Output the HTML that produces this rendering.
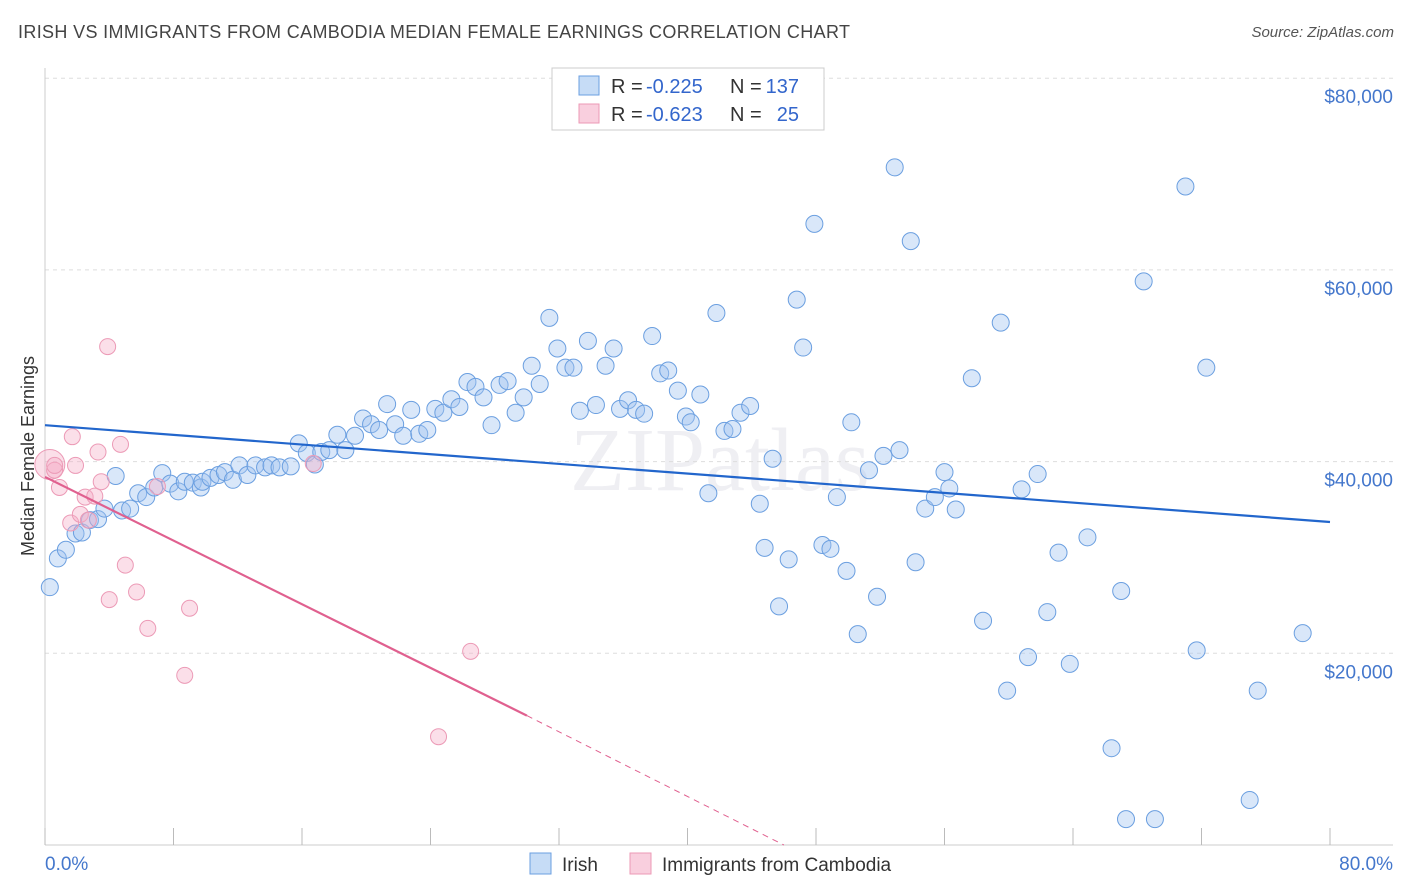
<!DOCTYPE html>
<html><head><meta charset="utf-8">
<style>
body{margin:0;background:#fff;font-family:"Liberation Sans",sans-serif;}
#wrap{position:relative;width:1406px;height:892px;overflow:hidden;}
.title{position:absolute;left:18px;top:22px;font-size:18px;color:#444;letter-spacing:0.35px;}
.source{position:absolute;right:12px;top:24px;font-size:15px;color:#555;font-style:italic;}
</style></head>
<body>
<div id="wrap">
<div class="title">IRISH VS IMMIGRANTS FROM CAMBODIA MEDIAN FEMALE EARNINGS CORRELATION CHART</div>
<div class="source">Source: ZipAtlas.com</div>
<svg id="svg" width="1406" height="892" style="position:absolute;left:0;top:0"></svg>
</div>
<script>
const irishX=[0.3,0.8,1.3,1.9,2.3,2.8,3.3,3.7,4.4,4.8,5.3,5.8,6.3,6.8,7.3,7.8,8.3,8.7,9.2,9.7,9.8,10.3,10.8,11.2,11.7,12.1,12.6,13.1,13.7,14.1,14.6,15.3,15.8,16.3,16.8,17.2,17.7,18.2,18.7,19.3,19.8,20.3,20.8,21.3,21.8,22.3,22.8,23.3,23.8,24.3,24.8,25.3,25.8,26.3,26.8,27.3,27.8,28.3,28.8,29.3,29.8,30.3,30.8,31.4,31.9,32.4,32.9,33.3,33.8,34.3,34.9,35.4,35.8,36.3,36.8,37.3,37.8,38.3,38.8,39.4,39.9,40.2,40.8,41.3,41.8,42.3,42.8,43.3,43.9,44.5,44.8,45.3,45.7,46.3,46.8,47.2,47.9,48.4,48.9,49.3,49.9,50.2,50.6,51.3,51.8,52.2,52.9,53.2,53.9,54.2,54.8,55.4,56.0,56.3,56.7,57.7,58.4,59.5,59.9,60.8,61.2,61.8,62.4,63.1,63.8,64.9,66.4,67.0,67.3,68.4,69.1,71.0,71.7,72.3,75.0,75.5,78.3];
const irishY=[26900,29900,30800,32500,32600,33900,34000,35100,38500,34900,35100,36700,36300,37300,38800,37700,36900,37900,37800,37300,37900,38300,38600,38900,38100,39600,38600,39600,39400,39600,39400,39500,41900,40900,39700,41000,41200,42800,41200,42700,44500,43900,43300,46000,43900,42700,45400,42900,43300,45500,45100,46500,45700,48300,47800,46700,43800,48000,48400,45100,46700,50000,48100,55000,51800,49800,49800,45300,52600,45900,50000,51800,45500,46400,45400,45000,53100,49200,49500,47400,44700,44100,47000,36700,55500,43200,43400,45100,45800,35600,31000,40300,24900,29800,56900,51900,64800,31300,30900,36300,28600,44100,22000,39100,25900,40600,70700,41200,63000,29500,35100,36300,38900,37200,35000,48700,23400,54500,16100,37100,19600,38700,24300,30500,18900,32100,10100,26500,2700,58800,2700,68700,20300,49800,4700,16100,22100];
const cambX=[0.3,0.6,0.9,1.6,1.7,1.9,2.2,2.5,3.1,3.3,3.5,3.9,4.0,4.7,5.0,5.7,6.4,7.0,8.7,9.0,16.7,24.5,26.5,2.7,0.6];
const cambY=[39700,39100,37300,33600,42600,39600,34500,36300,36400,41000,37900,52000,25600,41800,29200,26400,22600,37400,17700,24700,39800,11300,20200,33900,39600];
const irishLine=[43800,33700]; // y at x=0 and x=80
const cambLine=[38400,13500,30,46]; // y at 0, y at solid end, solid end x, zero-crossing x
const yTicks=[20000,40000,60000,80000];
const yTickLabels=["$20,000","$40,000","$60,000","$80,000"];
const xTicks=[0,8,16,24,32,40,48,56,64,72,80];

const NS="http://www.w3.org/2000/svg";
const svg=document.getElementById('svg');
const X=v=>45+v*1285/80;
const Y=v=>845-v*191.7/20000;
function el(t,a,p){const e=document.createElementNS(NS,t);for(const k in a)e.setAttribute(k,a[k]);(p||svg).appendChild(e);return e;}

const wm=el('text',{x:720,y:490,'text-anchor':'middle','font-size':90,fill:'#efeff3','font-family':'Liberation Serif, serif'});


wm.textContent='ZIPatlas';

yTicks.forEach((v,i)=>{
  const g=el('line',{x1:45,x2:1393,y1:Y(v),y2:Y(v),stroke:'#ddd','stroke-dasharray':'4,4'});
  
  
  const t=el('text',{x:1393,y:Y(v)+25,'text-anchor':'end','font-size':19,fill:'#4477cc'});
  
  
  t.textContent=yTickLabels[i];
});
const ax=el('line',{x1:45,x2:1393,y1:845,y2:845,stroke:'#ccc'});


const ay=el('line',{x1:45,x2:45,y1:68,y2:845,stroke:'#ccc'});


xTicks.forEach(v=>{
  const t=el('line',{x1:X(v),x2:X(v),y1:828,y2:845,stroke:'#bbb'});
  
  
});
const xl0=el('text',{x:45,y:870,'font-size':19,fill:'#4477cc'});


xl0.textContent='0.0%';
const xl1=el('text',{x:1393,y:870,'text-anchor':'end','font-size':19,fill:'#4477cc'});


xl1.textContent='80.0%';
const yt=el('text',{x:34,y:456,'text-anchor':'middle','font-size':18,fill:'#333',transform:'rotate(-90 34 456)'});


yt.textContent='Median Female Earnings';

irishX.forEach((x,i)=>{
  const c=el('circle',{cx:X(x),cy:Y(irishY[i]),r:8.5,fill:'rgba(160,196,240,0.4)',stroke:'#6b9fe0','stroke-width':1});
  
  
});
cambX.forEach((x,i)=>{
  const c=el('circle',{cx:X(x),cy:Y(cambY[i]),r:i===0?15:8,fill:'rgba(245,175,200,0.4)',stroke:'#ec9ab6','stroke-width':1});
  
  
});
const l1=el('line',{x1:X(0),y1:Y(irishLine[0]),x2:X(80),y2:Y(irishLine[1]),stroke:'#2266cc','stroke-width':2.2});


const l2=el('line',{x1:X(0),y1:Y(cambLine[0]),x2:X(cambLine[2]),y2:Y(cambLine[1]),stroke:'#e0608f','stroke-width':2.2});


const l3=el('line',{x1:X(cambLine[2]),y1:Y(cambLine[1]),x2:X(cambLine[3]),y2:Y(0),stroke:'#e0608f','stroke-width':1,'stroke-dasharray':'6,5'});



const lg=el('rect',{x:552,y:68,width:272,height:62,fill:'#fff',stroke:'#ccc'});


[[0,'rgba(160,196,240,0.6)','#6b9fe0','-0.225','137'],[1,'rgba(245,175,200,0.6)','#ec9ab6','-0.623','25']].forEach(r=>{
  const y=86+r[0]*28;
  const s=el('rect',{x:579,y:y-10,width:20,height:19,fill:r[1],stroke:r[2]});
  
  
  const a=el('text',{x:611,y:y+7,'font-size':20,fill:'#333'});
  
  
  a.textContent='R =';
  const b=el('text',{x:646,y:y+7,'font-size':20,fill:'#3366cc'});
  
  
  b.textContent=r[3];
  const c=el('text',{x:730,y:y+7,'font-size':20,fill:'#333'});
  
  
  c.textContent='N =';
  const d=el('text',{x:799,y:y+7,'font-size':20,fill:'#3366cc','text-anchor':'end'});
  
  
  d.textContent=r[4];
});
[[530,'rgba(160,196,240,0.6)','#6b9fe0','Irish'],[630,'rgba(245,175,200,0.6)','#ec9ab6','Immigrants from Cambodia']].forEach(r=>{
  const s=el('rect',{x:r[0],y:853,width:21,height:21,fill:r[1],stroke:r[2]});
  
  
  const t=el('text',{x:r[0]+32,y:871,'font-size':19,fill:'#333'});
  
  
  t.textContent=r[3];
});
</script>
</body></html>
